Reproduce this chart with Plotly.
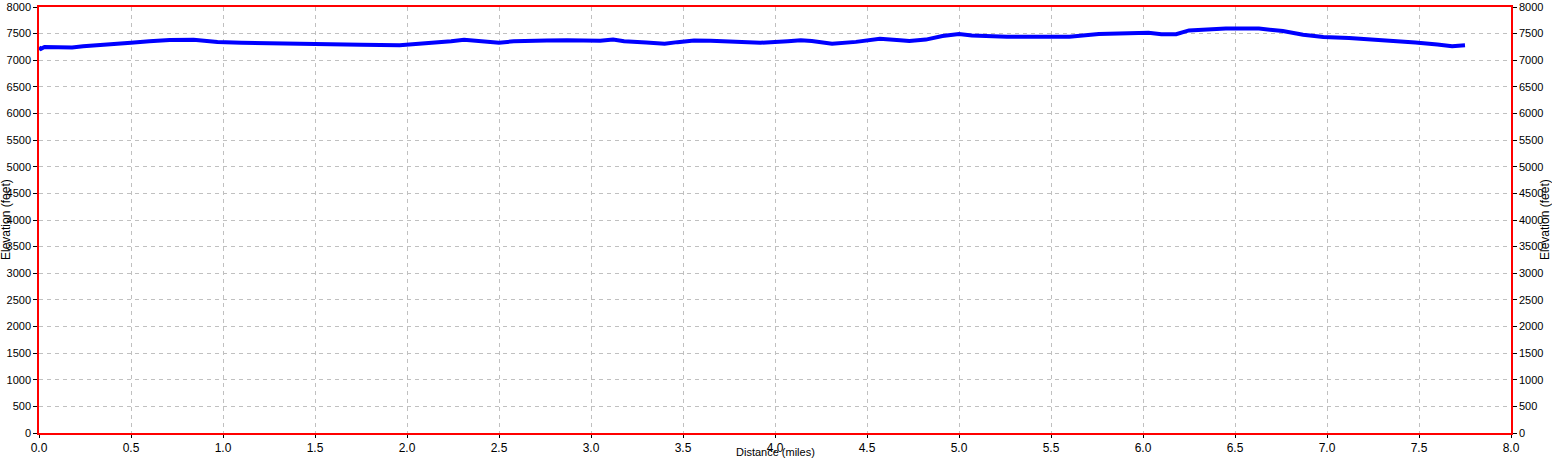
import plotly.graph_objects as go

# distance along the trail (miles) and elevation (feet)
distance = [0.0, 0.01, 0.03, 0.06, 0.12, 0.18, 0.24, 0.33, 0.44, 0.5, 0.6, 0.71, 0.84,
            0.9, 0.97, 1.1, 1.3, 1.51, 1.75, 1.96, 2.04, 2.13, 2.24, 2.31, 2.38, 2.43,
            2.5, 2.58, 2.69, 2.76, 2.87, 3.0, 3.05, 3.12, 3.18, 3.3, 3.4, 3.47, 3.56,
            3.65, 3.78, 3.92, 4.07, 4.14, 4.2, 4.31, 4.44, 4.5, 4.57, 4.68, 4.73, 4.82,
            4.91, 5.0, 5.07, 5.26, 5.4, 5.6, 5.76, 5.94, 6.03, 6.1, 6.18, 6.25, 6.45,
            6.63, 6.76, 6.87, 6.98, 7.12, 7.3, 7.48, 7.6, 7.68, 7.75]
elevation = [7240, 7215, 7250, 7245, 7237, 7240, 7262, 7292, 7315, 7330, 7355, 7378, 7385,
             7365, 7345, 7328, 7322, 7305, 7290, 7282, 7300, 7335, 7358, 7383, 7362, 7332,
             7330, 7355, 7376, 7372, 7376, 7358, 7366, 7388, 7358, 7332, 7310, 7340, 7370,
             7364, 7338, 7328, 7358, 7376, 7360, 7312, 7345, 7372, 7402, 7376, 7360, 7388,
             7455, 7494, 7466, 7442, 7448, 7440, 7494, 7500, 7518, 7490, 7490, 7560, 7596,
             7594, 7550, 7480, 7436, 7420, 7384, 7333, 7295, 7262, 7280]

fig = go.Figure()

fig.add_trace(go.Scatter(
    x=distance, y=elevation, mode='lines',
    line=dict(color='#0000ff', width=4),
    showlegend=False
))
# same profile on the right-hand axis so it gets drawn with its labels
fig.add_trace(go.Scatter(
    x=distance, y=elevation, mode='lines', yaxis='y2',
    line=dict(color='rgba(0,0,0,0)', width=0),
    showlegend=False, hoverinfo='skip'
))

tick_font = dict(family='Arial, Liberation Sans', size=11, color='black')
title_font = dict(family='Arial, Liberation Sans', size=12, color='black')
grid = dict(showgrid=True, gridcolor='#c0c0c0', griddash='4px,4px', gridwidth=1)

fig.update_layout(
    width=1552, height=459,
    paper_bgcolor='white', plot_bgcolor='white',
    margin=dict(l=39, r=41, t=7, b=26),
    font=tick_font,
    xaxis=dict(
        range=[0, 8], dtick=0.5, tickformat='.1f', **grid,
        showline=True, linecolor='red', linewidth=1.5, mirror=True,
        ticks='outside', ticklen=3, tickcolor='black',
        zeroline=False, automargin=False, tickfont=dict(tick_font, size=12)
    ),
    yaxis=dict(
        range=[0, 8000], dtick=500, **grid,
        showline=True, linecolor='red', linewidth=1.5, mirror=True,
        ticks='outside', ticklen=4, tickcolor='black',
        zeroline=False, automargin=False, tickfont=tick_font
    ),
    yaxis2=dict(
        range=[0, 8000], dtick=500, overlaying='y', side='right',
        showgrid=False, showline=True, linecolor='red', linewidth=1.5,
        ticks='outside', ticklen=4, tickcolor='black',
        zeroline=False, automargin=False, tickfont=tick_font
    ),
    annotations=[
        dict(text='Distance (miles)', xref='paper', yref='paper', x=0.5, y=0,
             yshift=-19, xanchor='center', yanchor='middle', showarrow=False,
             font=dict(title_font, size=11)),
        dict(text='Elevation (feet)', xref='paper', yref='paper', x=0, y=0.5,
             xshift=-33, xanchor='center', yanchor='middle', textangle=-90,
             showarrow=False, font=title_font),
        dict(text='Elevation (feet)', xref='paper', yref='paper', x=1, y=0.5,
             xshift=34, xanchor='center', yanchor='middle', textangle=-90,
             showarrow=False, font=title_font),
    ]
)

# drop the page's default body margin so the figure sits at the window corner
fig.write_html("out.html", config={'displayModeBar': False},
               post_script="document.body.style.margin='0';")
